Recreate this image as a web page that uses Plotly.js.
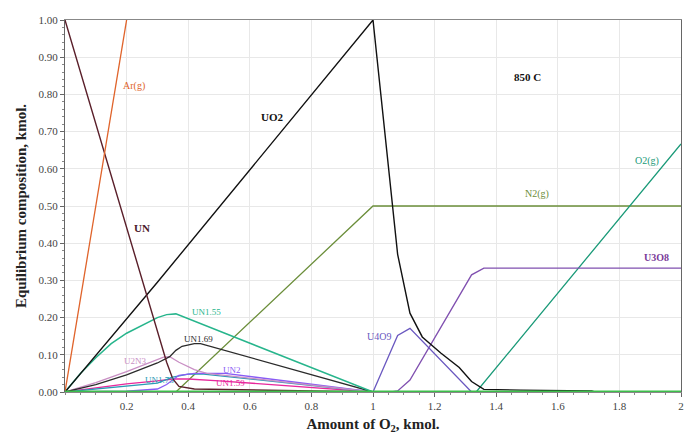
<!DOCTYPE html>
<html>
<head>
<meta charset="utf-8">
<script src="https://cdn.plot.ly/plotly-3.0.1.min.js"></script>
<style>html,body{margin:0;padding:0;background:#fff;}#chart{width:684px;height:435px;}</style>
</head>
<body>
<div id="chart"></div>
<script>
// Series data (x = amount of O2, kmol; y = equilibrium composition, kmol)
const arX = [0, 0.2, 0.25];
const arY = [0, 1.0, 1.25];

const unX = [0, 0.33, 0.35, 0.37, 0.42, 0.6, 0.8, 1.0];
const unY = [1.0, 0.08, 0.035, 0.015, 0.008, 0.005, 0.003, 0.0];

const uo2X = [0, 0.3, 1.0, 1.06, 1.08, 1.12, 1.16, 1.22, 1.28, 1.32, 1.36, 1.48, 1.71, 1.72, 2.0];
const uo2Y = [0, 0.295, 1.0, 0.516, 0.37, 0.212, 0.148, 0.105, 0.066, 0.028, 0.007, 0.005, 0.003, 0.0, 0.0];

const un155X = [0, 0.05, 0.1, 0.15, 0.2, 0.25, 0.3, 0.33, 0.36, 1.0];
const un155Y = [0, 0.05, 0.092, 0.13, 0.158, 0.18, 0.2, 0.208, 0.21, 0.0];

const un169X = [0, 0.1, 0.2, 0.3, 0.34, 0.36, 0.38, 0.42, 0.44, 1.0];
const un169Y = [0, 0.02, 0.046, 0.078, 0.095, 0.112, 0.123, 0.13, 0.13, 0.0];

const u2n3X = [0, 0.1, 0.2, 0.27, 0.32, 0.34, 0.37, 0.42, 0.46, 1.0];
const u2n3Y = [0, 0.025, 0.055, 0.078, 0.094, 0.095, 0.08, 0.06, 0.05, 0.0];

const un2X = [0, 0.2, 0.3, 0.33, 0.37, 0.42, 0.52, 1.0];
const un2Y = [0, 0.002, 0.008, 0.02, 0.045, 0.05, 0.05, 0.0];

const un173X = [0, 0.1, 0.2, 0.3, 0.35, 0.4, 0.45, 1.0];
const un173Y = [0, 0.008, 0.016, 0.024, 0.04, 0.048, 0.048, 0.0];

const un159X = [0, 0.1, 0.2, 0.3, 0.35, 0.4, 0.5, 1.0];
const un159Y = [0, 0.012, 0.022, 0.03, 0.035, 0.035, 0.03, 0.0];

const n2X = [0, 0.36, 1.0, 2.0];
const n2Y = [0, 0, 0.5, 0.5];

const o2X = [0, 1.335, 2.0];
const o2Y = [0, 0, 0.667];

const u3o8X = [1.0, 1.06, 1.08, 1.12, 1.32, 1.36, 2.0];
const u3o8Y = [0, 0, 0.003, 0.032, 0.315, 0.333, 0.333];

const u4o9X = [1.0, 1.08, 1.12, 1.32, 2.0];
const u4o9Y = [0, 0.152, 0.171, 0.0, 0.0];

const zeroX = [0, 2.0];
const zeroY = [0, 0];

const xTickVals = [0.2, 0.4, 0.6, 0.8, 1, 1.2, 1.4, 1.6, 1.8, 2];
const xTickText = ['0.2', '0.4', '0.6', '0.8', '1', '1.2', '1.4', '1.6', '1.8', '2'];

function line(x, y, color, width) {
  return {x: x, y: y, type: 'scatter', mode: 'lines', line: {color: color, width: width || 1.3}, hoverinfo: 'skip'};
}

const traces = [
  line(n2X, n2Y, '#6b8e3a', 1.3),
  line(o2X, o2Y, '#1a9a78', 1.3),
  line(un159X, un159Y, '#e8289c', 1.3),
  line(un173X, un173Y, '#2a9bb5', 1.3),
  line(un2X, un2Y, '#8a5cf5', 1.3),
  line(u2n3X, u2n3Y, '#c98fc4', 1.3),
  line(un169X, un169Y, '#2b2b2b', 1.3),
  line(un155X, un155Y, '#27b58c', 1.5),
  line(u3o8X, u3o8Y, '#8050b0', 1.3),
  line(u4o9X, u4o9Y, '#6a58c0', 1.3),
  line(uo2X, uo2Y, '#111111', 1.4),
  line(unX, unY, '#5a1f2a', 1.4),
  line(arX, arY, '#e0632a', 1.3),
  line(zeroX, zeroY, '#3cbf4a', 3)
];

const serif = 'Liberation Serif, Times New Roman, serif';
function ann(text, x, y, color, size, bold) {
  return {text: bold ? '<b>' + text + '</b>' : text, x: x, y: y, xref: 'x', yref: 'y', showarrow: false,
          xanchor: 'center', yanchor: 'middle', font: {family: serif, size: size, color: color}};
}

const layout = {
  width: 684, height: 435,
  margin: {l: 65, r: 3, t: 20, b: 43},
  paper_bgcolor: '#ffffff', plot_bgcolor: '#ffffff',
  showlegend: false,
  font: {family: serif, size: 11, color: '#333'},
  xaxis: {
    range: [0, 2], tickvals: xTickVals, ticktext: xTickText,
    ticks: 'outside', ticklen: 4, tickcolor: '#666',
    minor: {ticks: 'outside', ticklen: 2, dtick: 0.05, tickcolor: '#888', showgrid: false},
    showgrid: true, gridcolor: '#e8e8e8', zeroline: false,
    showline: true, linecolor: '#888', mirror: true,
    tickfont: {family: serif, size: 11, color: '#444'},
    title: {text: '<b>Amount of O<sub>2</sub>, kmol.</b>', font: {family: serif, size: 15, color: '#222'}, standoff: 7}
  },
  yaxis: {
    range: [0, 1], dtick: 0.1, tickformat: '.2f',
    ticks: 'outside', ticklen: 4, tickcolor: '#666',
    minor: {ticks: 'outside', ticklen: 2, dtick: 0.02, tickcolor: '#888', showgrid: false},
    showgrid: true, gridcolor: '#e8e8e8', zeroline: false,
    showline: true, linecolor: '#666', mirror: true,
    tickfont: {family: serif, size: 11, color: '#444'},
    title: {text: '<b>Equilibrium composition, kmol.</b>', font: {family: serif, size: 15, color: '#222'}, standoff: 8}
  },
  annotations: [
    ann('Ar(g)', 0.224, 0.823, '#e0632a', 10, false),
    ann('UO2', 0.675, 0.739, '#111', 11, true),
    ann('UN', 0.249, 0.441, '#4a1a2a', 11, true),
    ann('850 C', 1.503, 0.847, '#111', 11, true),
    ann('O2(g)', 1.889, 0.622, '#1a9a78', 10, false),
    ann('N2(g)', 1.531, 0.531, '#6b8e3a', 10, false),
    ann('U3O8', 1.921, 0.361, '#7a3a9a', 10, true),
    ann('U4O9', 1.019, 0.149, '#6a58c0', 10, false),
    ann('UN1.55', 0.46, 0.216, '#27b58c', 9, false),
    ann('UN1.69', 0.433, 0.142, '#2b2b2b', 9, false),
    ann('U2N3', 0.227, 0.083, '#c98fc4', 9, false),
    ann('UN2', 0.541, 0.059, '#8a5cf5', 9, false),
    ann('UN1.73', 0.308, 0.032, '#2a9bb5', 9, false),
    ann('UN1.59', 0.536, 0.023, '#e8289c', 9, false)
  ]
};

Plotly.newPlot('chart', traces, layout, {displayModeBar: false, staticPlot: true});
</script>
</body>
</html>
